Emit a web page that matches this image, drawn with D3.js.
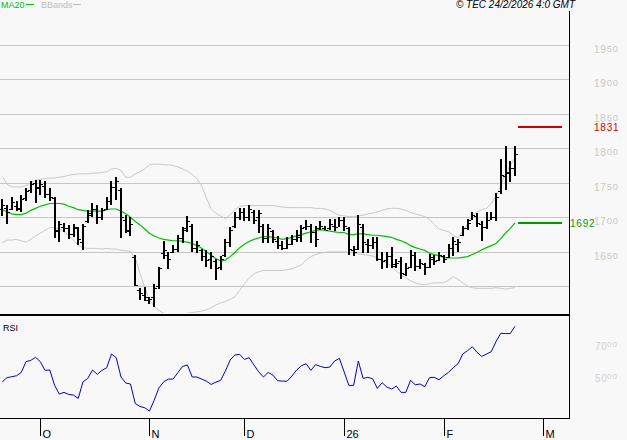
<!DOCTYPE html>
<html><head><meta charset="utf-8">
<script src="https://cdn.jsdelivr.net/npm/d3@7"></script>
<style>html,body{margin:0;padding:0;background:#f8f8f8;}svg{display:block;}</style>
</head><body><svg id="c" width="627" height="440"></svg>
<script>
const highs=[1726,1718,1729,1723,1732,1743,1752,1754,1754,1752,1742,1729,1695,1692,1689,1691,1686,1691,1710,1721,1718,1713,1729,1753,1758,1742,1703,1701,1645,1597,1599,1585,1604,1628,1665,1650,1660,1674,1686,1702,1690,1665,1654,1653,1650,1639,1644,1669,1686,1707,1713,1713,1718,1711,1711,1690,1690,1681,1673,1665,1671,1674,1681,1689,1696,1691,1687,1694,1687,1697,1698,1700,1700,1686,1658,1703,1690,1668,1671,1671,1650,1650,1657,1639,1643,1634,1652,1649,1639,1634,1647,1645,1649,1645,1661,1672,1668,1687,1697,1707,1706,1694,1707,1707,1735,1785,1803,1781,1803];
const lows=[1701,1691,1710,1708,1707,1724,1735,1721,1732,1727,1723,1669,1664,1679,1669,1672,1660,1653,1691,1701,1690,1696,1710,1718,1725,1669,1677,1674,1600,1580,1578,1575,1570,1596,1639,1626,1648,1649,1663,1679,1649,1647,1636,1628,1626,1609,1624,1643,1657,1684,1696,1694,1695,1691,1678,1663,1663,1662,1654,1652,1653,1660,1663,1665,1681,1663,1657,1681,1681,1681,1681,1685,1679,1645,1643,1652,1648,1647,1654,1636,1626,1627,1627,1626,1611,1615,1626,1621,1624,1617,1626,1631,1636,1633,1640,1644,1649,1672,1681,1695,1686,1665,1682,1695,1694,1735,1739,1751,1760];
const opens=[1712,1714,1712,1716,1714,1728,1740,1750,1742,1746,1734,1728,1680,1686,1684,1676,1684,1664,1694,1706,1712,1700,1712,1724,1744,1740,1696,1680,1642,1594,1588,1580,1584,1600,1648,1646,1650,1654,1670,1684,1688,1656,1652,1644,1640,1636,1628,1646,1664,1688,1700,1708,1700,1708,1700,1688,1670,1680,1666,1660,1656,1662,1668,1672,1686,1688,1678,1684,1684,1684,1688,1686,1696,1684,1652,1654,1686,1662,1660,1664,1640,1638,1644,1632,1636,1618,1628,1646,1630,1632,1628,1640,1638,1644,1642,1656,1662,1674,1684,1696,1702,1690,1686,1696,1700,1738,1760,1766,1772];
const closes=[1718,1708,1722,1712,1726,1738,1748,1744,1748,1734,1730,1682,1690,1684,1676,1686,1668,1688,1704,1712,1700,1710,1724,1744,1752,1700,1682,1690,1602,1590,1584,1582,1598,1626,1652,1640,1654,1670,1682,1694,1656,1660,1644,1638,1644,1626,1640,1664,1682,1700,1708,1700,1712,1696,1706,1670,1684,1668,1660,1656,1662,1668,1674,1684,1688,1678,1668,1688,1682,1690,1686,1696,1688,1654,1650,1690,1664,1660,1664,1640,1636,1644,1630,1634,1620,1626,1646,1630,1634,1628,1642,1636,1646,1640,1656,1666,1664,1684,1692,1704,1692,1686,1696,1700,1730,1762,1764,1772,1792];
const ma20=[1711,1708,1705,1704,1704,1706,1710,1713,1716,1718,1720,1720,1720,1719,1716,1714,1711,1710,1709,1709,1709,1709,1711,1712,1712,1709,1705,1700,1694,1689,1683,1677,1673,1670,1668,1667,1666,1666,1665,1664,1662,1659,1655,1650,1645,1640,1637,1638,1643,1649,1656,1661,1665,1668,1670,1672,1672,1671,1670,1668,1669,1671,1673,1675,1677,1679,1681,1682,1681,1680,1679,1678,1678,1675,1675,1676,1676,1675,1674,1674,1673,1672,1671,1668,1666,1663,1659,1656,1654,1652,1648,1646,1644,1642,1641,1641,1641,1642,1643,1646,1649,1653,1656,1659,1662,1669,1677,1684,1692];
const bbUpper=[1759,1748,1744,1744,1744,1746,1750,1754,1755,1756,1757,1757,1758,1759,1761,1762,1763,1763,1763,1764,1764,1765,1766,1770,1771,1768,1758,1758,1763,1766,1770,1776,1777,1777,1776,1776,1775,1773,1770,1767,1762,1756,1745,1728,1712,1706,1702,1698,1704,1711,1716,1717,1717,1717,1717,1717,1717,1717,1716,1715,1714,1714,1714,1714,1714,1714,1713,1713,1712,1710,1706,1703,1702,1701,1701,1702,1703,1705,1706,1708,1710,1712,1713,1713,1712,1710,1707,1705,1703,1701,1697,1690,1683,1681,1679,1674,1670,1680,1690,1703,1708,1711,1713,1720,1731,1745,1763,1775,1786];
const bbLower=[1663,1667,1667,1668,1666,1664,1668,1673,1677,1681,1685,1685,1683,1679,1673,1667,1659,1656,1655,1655,1655,1654,1655,1654,1654,1652,1652,1650,1641,1619,1599,1580,1571,1565,1561,1558,1557,1558,1559,1561,1562,1563,1564,1566,1569,1573,1576,1578,1581,1585,1594,1604,1612,1618,1621,1623,1623,1623,1623,1623,1624,1625,1628,1631,1638,1643,1646,1648,1649,1650,1650,1650,1650,1649,1648,1647,1646,1645,1644,1641,1637,1634,1629,1622,1617,1612,1608,1605,1603,1602,1604,1605,1605,1605,1609,1614,1610,1605,1600,1598,1597,1597,1597,1597,1598,1597,1596,1597,1598];
const rsi=[45.1,47.7,48.3,48.9,51.0,57.8,58.6,60.5,57.8,52.3,52.5,43.0,37.3,38.4,37.1,36.7,34.6,45.1,47.2,52.5,49.8,52.3,54.0,62.6,60.3,48.1,44.3,43.7,31.4,29.5,28.7,26.6,33.5,41.3,45.1,46.8,46.8,51.0,54.8,55.7,48.1,48.1,46.8,45.5,43.4,44.9,46.0,51.9,58.8,62.0,62.4,59.2,60.3,55.7,51.4,48.1,51.0,49.3,45.8,45.5,45.5,48.7,52.5,55.2,56.5,52.3,55.9,54.8,54.0,54.4,58.2,59.9,51.4,42.8,42.8,58.2,47.2,47.9,47.0,40.9,44.5,41.8,40.5,42.4,38.4,38.4,46.0,43.2,43.7,42.0,47.7,47.9,46.4,48.9,51.0,54.0,56.5,62.6,64.7,67.2,63.7,61.1,62.6,64.1,70.4,75.7,75.5,75.5,80.1];
const priceTicks=[1650,1700,1750,1800,1850,1900,1950];
const priceGrid=[1600,1650,1700,1750,1800,1850,1900,1950];
const rsiTicks=[50,70];
const monthTickIdx=[8,31,51,72,93,114];
const monthLabels=["O","N","D","26","F","M"];
const levels=[{v:1831,c:"#cc0000"},{v:1692,c:"#009900"}];

const svg=d3.select("#c");
svg.append("rect").attr("width",627).attr("height",440).attr("fill","#f8f8f8");
const x=d3.scaleLinear().domain([0,108]).range([2.3,515]);
const y=d3.scaleLinear().domain([1600,1800]).range([286.3,148.3]);
const yr=d3.scaleLinear().domain([50,70]).range([374,342.3]);
const font="'Liberation Sans', Arial, sans-serif";

const defs=svg.append("defs");
defs.append("clipPath").attr("id","cp").append("rect").attr("x",0).attr("y",11).attr("width",569).attr("height",302);
defs.append("clipPath").attr("id","cr").append("rect").attr("x",0).attr("y",317).attr("width",569).attr("height",101);

// grid
svg.append("g").selectAll("line").data(priceGrid).join("line")
  .attr("x1",0).attr("x2",569).attr("y1",d=>Math.round(y(d))+0.5).attr("y2",d=>Math.round(y(d))+0.5)
  .attr("stroke","#c6c6c6").attr("stroke-width",1);

const pg=svg.append("g").attr("clip-path","url(#cp)");
const line=arr=>d3.line().x((d,i)=>x(i)).y(d=>y(d))(arr);
pg.append("path").attr("d",line(bbUpper)).attr("fill","none").attr("stroke","#c8c8c8").attr("stroke-width",1);
pg.append("path").attr("d",line(bbLower)).attr("fill","none").attr("stroke","#c8c8c8").attr("stroke-width",1);
pg.append("path").attr("d",line(ma20)).attr("fill","none").attr("stroke","#00c000").attr("stroke-width",1.2);

const bars=pg.append("g").attr("shape-rendering","crispEdges");
highs.forEach((h,i)=>{
  const cx=Math.round(x(i));
  bars.append("rect").attr("x",cx-1).attr("width",2).attr("y",Math.round(y(h))).attr("height",Math.max(1,Math.round(y(lows[i])-y(h)))).attr("fill","#000");
  bars.append("rect").attr("x",cx-3).attr("width",2).attr("y",Math.round(y(opens[i]))).attr("height",1).attr("fill","#000");
  bars.append("rect").attr("x",cx+1).attr("width",2).attr("y",Math.round(y(closes[i]))).attr("height",1).attr("fill","#000");
});

// level lines
levels.forEach(l=>{
  svg.append("rect").attr("x",518).attr("width",44).attr("y",Math.round(y(l.v))-1).attr("height",2).attr("fill",l.c);
});
svg.append("text").attr("x",594).attr("y",y(1831)+4.5).attr("fill","#cc0000").attr("font-family",font).attr("font-size",10).attr("letter-spacing",0.8).text("1831");
svg.append("text").attr("x",570).attr("y",y(1692)+4.5).attr("fill","#009900").attr("font-family",font).attr("font-size",10).attr("letter-spacing",0.8).text("1692");

// price labels
const pl=svg.append("g");
priceTicks.forEach(t=>{
  const s=String(t);
  const tx=pl.append("text").attr("x",594).attr("y",y(t)+8).attr("fill","#c8c8c8").attr("font-family",font).attr("font-size",10).attr("letter-spacing",0.8);
  tx.append("tspan").text(s.slice(0,2));
  tx.append("tspan").attr("dy",-1).attr("font-size",9.5).text(s.slice(2));
});

// frame
svg.append("rect").attr("x",569).attr("y",11).attr("width",1).attr("height",407).attr("fill","#000");
svg.append("rect").attr("x",0).attr("y",314).attr("width",570).attr("height",2).attr("fill","#000");
svg.append("rect").attr("x",0).attr("y",418).attr("width",570).attr("height",1).attr("fill","#000");

// RSI
svg.append("text").attr("x",3).attr("y",331).attr("font-family",font).attr("font-size",9).attr("fill","#000").text("RSI");
svg.append("g").attr("clip-path","url(#cr)").append("path")
  .attr("d",d3.line().x((d,i)=>x(i)).y(d=>yr(d))(rsi)).attr("fill","none").attr("stroke","#0000cc").attr("stroke-width",1);
rsiTicks.forEach(t=>{
  const tx=svg.append("text").attr("x",595).attr("y",yr(t)+8).attr("fill","#d0d0d0").attr("font-family",font).attr("font-size",10).attr("letter-spacing",0.6);
  tx.append("tspan").text(String(t));
  tx.append("tspan").attr("dy",-3).attr("font-size",8).text("00");
});

// x axis
const xa=svg.append("g").attr("shape-rendering","crispEdges");
monthTickIdx.forEach((m,k)=>{
  const tx=Math.round(x(m))+0.5;
  xa.append("line").attr("x1",tx).attr("x2",tx).attr("y1",419).attr("y2",436).attr("stroke","#000");
  svg.append("text").attr("x",tx+2).attr("y",438).attr("font-family",font).attr("font-size",11).attr("fill","#000").text(monthLabels[k]);
});

// legend
svg.append("text").attr("x",1).attr("y",8).attr("font-family",font).attr("font-size",9).attr("fill","#00bb00").text("MA20");
svg.append("rect").attr("x",26).attr("y",4).attr("width",8).attr("height",1).attr("fill","#00bb00");
svg.append("text").attr("x",41).attr("y",8).attr("font-family",font).attr("font-size",9).attr("fill","#bdbdbd").text("BBands");
svg.append("rect").attr("x",73).attr("y",4).attr("width",8).attr("height",1).attr("fill","#bdbdbd");
svg.append("text").attr("x",575).attr("y",8).attr("text-anchor","end").attr("font-family",font).attr("font-style","italic").attr("font-size",10).attr("fill","#000").text("\u00a9 TEC 24/2/2026 4:0 GMT");
</script></body></html>
